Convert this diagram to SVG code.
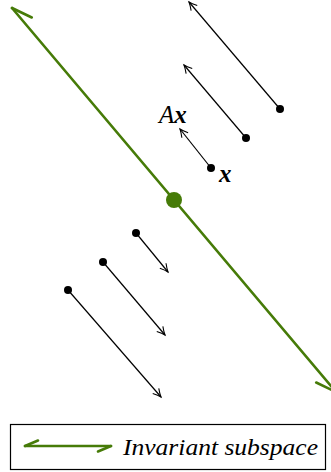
<svg xmlns="http://www.w3.org/2000/svg" width="331" height="472" viewBox="0 0 331 472">
<style>
.g{stroke:#467b08;stroke-width:2.6;fill:none;stroke-linecap:round}
.v{stroke:#000;stroke-width:1.2;fill:none;marker-end:url(#ah)}
.dot{fill:#000}
.lbl{font-family:"Liberation Serif","DejaVu Serif",serif;font-style:italic;fill:#000}
</style>
<defs>
<marker id="harp" markerUnits="userSpaceOnUse" viewBox="-24 -2 28 14" refX="0" refY="0" markerWidth="28" markerHeight="14" orient="auto-start-reverse" overflow="visible">
<path d="M0,0 L-20,9" stroke="#467b08" stroke-width="2.6" stroke-linecap="round" fill="none"/>
</marker>
<marker id="harps" markerUnits="userSpaceOnUse" viewBox="-16 -2 20 10" refX="0" refY="0" markerWidth="20" markerHeight="10" orient="auto-start-reverse" overflow="visible">
<path d="M0,0 L-13,5.5" stroke="#467b08" stroke-width="2.6" stroke-linecap="round" fill="none"/>
</marker>
<marker id="ah" markerUnits="userSpaceOnUse" viewBox="-10 -6 12 12" refX="0" refY="0" markerWidth="12" markerHeight="12" orient="auto" overflow="visible">
<path d="M-8,-4 Q-3,-1 0,0 Q-3,1 -8,4" stroke="#000" stroke-width="1.1" fill="none"/>
</marker>
</defs>
<g id="connectors">
<line class="g" x1="12" y1="8" x2="336" y2="392" marker-start="url(#harp)" marker-end="url(#harp)"/>
<line class="v" x1="280" y1="109" x2="189" y2="2"/>
<line class="v" x1="246" y1="138" x2="184" y2="65"/>
<line class="v" x1="211" y1="168" x2="180" y2="129"/>
<line class="v" x1="136" y1="233" x2="168" y2="272"/>
<line class="v" x1="103" y1="262" x2="165" y2="335"/>
<line class="v" x1="68" y1="290" x2="161" y2="397"/>
</g>
<g id="fixed-point"><circle cx="174" cy="200" r="8" fill="#467b08"/></g>
<g id="vec1"><circle class="dot" cx="280" cy="109" r="4"/></g>
<g id="vec2"><circle class="dot" cx="246" cy="138" r="4"/></g>
<g id="vec3"><circle class="dot" cx="211" cy="168" r="4"/></g>
<g id="vec4"><circle class="dot" cx="136" cy="233" r="4"/></g>
<g id="vec5"><circle class="dot" cx="103" cy="262" r="4"/></g>
<g id="vec6"><circle class="dot" cx="68" cy="290" r="4"/></g>
<g id="label-Ax"><text class="lbl" x="159" y="123" font-size="25">A<tspan font-weight="bold">x</tspan></text></g>
<g id="label-x"><text class="lbl" x="219" y="182" font-size="25" font-weight="bold">x</text></g>
<g id="legend">
<rect x="10.5" y="424.5" width="315" height="45" fill="#fff" stroke="#000" stroke-width="1.2"/>
<line class="g" x1="25" y1="446" x2="111" y2="446" marker-start="url(#harps)" marker-end="url(#harps)"/>
<text class="lbl" x="123" y="455" font-size="24" textLength="195" lengthAdjust="spacingAndGlyphs">Invariant subspace</text>
</g>
</svg>
